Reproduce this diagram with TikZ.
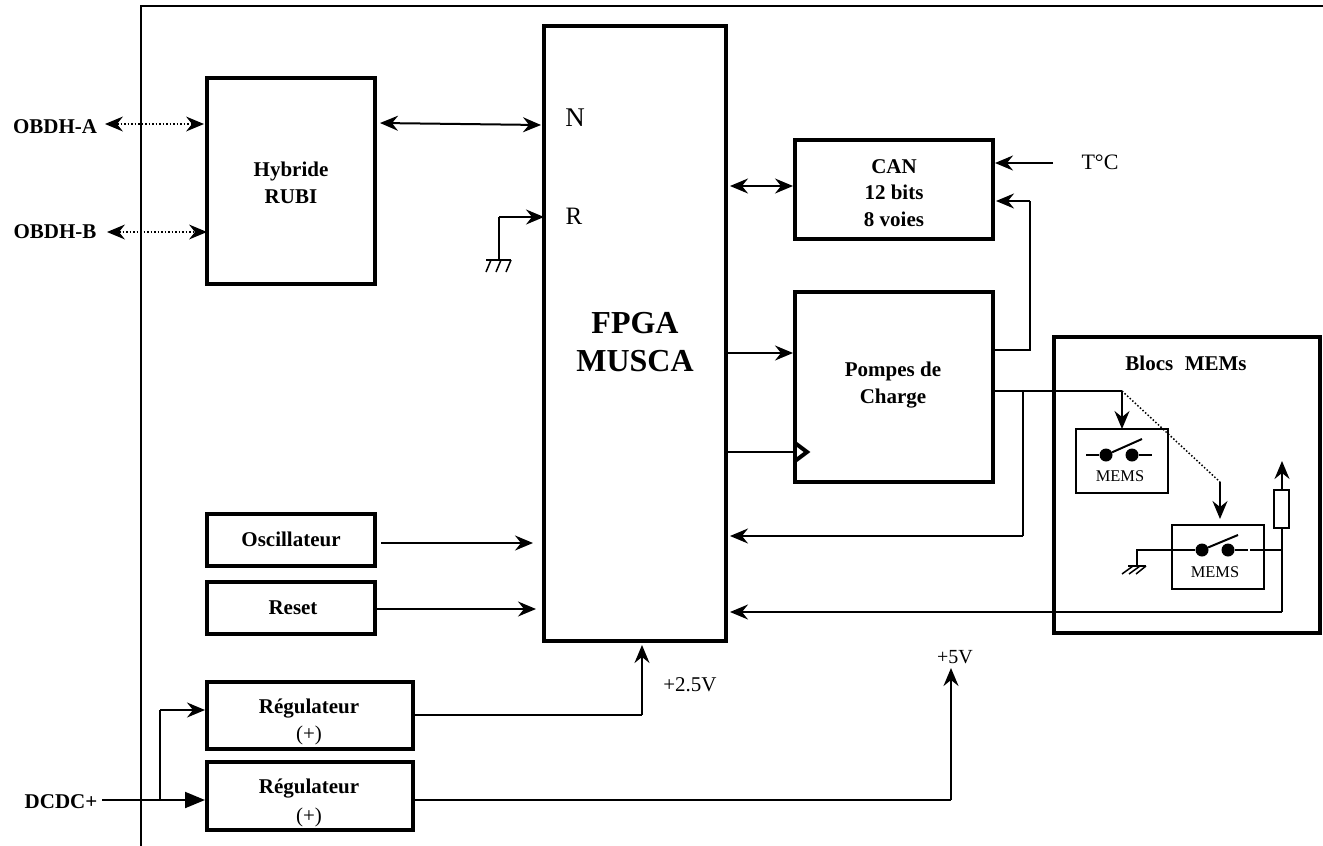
\documentclass[tikz,border=0pt]{standalone}
\usepackage{fontspec}
\setmainfont{Liberation Serif}
\usetikzlibrary{arrows.meta}
\newcommand{\fsz}[2]{\fontsize{#1}{#2}\selectfont}
\tikzset{
  x=1pt,y=-1pt,
  thickbox/.style={draw=black,line width=4pt,inner sep=0pt,outer sep=0pt},
  thinbox/.style={draw=black,line width=2pt,inner sep=0pt,outer sep=0pt},
  wire/.style={draw=black,line width=2pt},
  dotwire/.style={draw=black,line width=1.5pt,dotted},
  lbl/.style={inner sep=0pt,outer sep=0pt},
  blbl/.style={inner sep=0pt,outer sep=0pt,align=center,font=\fsz{21}{26.5}\bfseries},
  arr/.style={wire,-{Stealth[length=18pt,width=15pt,inset=6pt]}},
  darr/.style={wire,{Stealth[length=18pt,width=15pt,inset=6pt]}-{Stealth[length=18pt,width=15pt,inset=6pt]}},
  ddot/.style={dotwire,{Stealth[length=18pt,width=15pt,inset=6pt,line width=0pt]}-{Stealth[length=18pt,width=15pt,inset=6pt,line width=0pt]}},
  dotdisc/.style={circle,fill=black,inner sep=0pt,minimum size=13pt},
}
\begin{document}
\begin{tikzpicture}
\useasboundingbox (0,0) rectangle (1323,846);
% outer frame
\draw[line width=2pt] (141,846) -- (141,6) -- (1323,6);
% boxes
\node[thickbox,minimum width=168pt,minimum height=206pt] (hyb) at (291,181) {};
\node[thickbox,minimum width=182pt,minimum height=615pt] (fpga) at (635,333.5) {};
\node[thickbox,minimum width=198pt,minimum height=99pt] (can) at (894,189.5) {};
\node[thickbox,minimum width=198pt,minimum height=190pt] (pomp) at (894,387) {};
\node[thickbox,minimum width=266pt,minimum height=296pt] (blocs) at (1186.5,485) {};
\node[thickbox,minimum width=168pt,minimum height=52pt] (osc) at (291,540) {};
\node[thickbox,minimum width=168pt,minimum height=52pt] (rst) at (291,608) {};
\node[thickbox,minimum width=206pt,minimum height=67pt] (regA) at (310,715.5) {};
\node[thickbox,minimum width=206pt,minimum height=68pt] (regB) at (310,796) {};
\node[thinbox,minimum width=92pt,minimum height=64pt] (memsA) at (1122,461) {};
\node[thinbox,minimum width=92pt,minimum height=64pt] (memsB) at (1218,557) {};
\node[thinbox,minimum width=15pt,minimum height=38pt] (res) at (1281.5,509) {};
% box texts
\node[blbl] (hybt) at (291,183) {Hybride\\RUBI};
\node[lbl,align=center,font=\fsz{32}{38}\bfseries] (fpgat) at (635,342) {FPGA\\MUSCA};
\node[blbl] (cant) at (894,193) {CAN\\12 bits\\8 voies};
\node[blbl] (pompt) at (893,385) {Pompes de\\Charge};
\node[blbl] (blocst) at (1186,363) {Blocs\hspace{0.3em} MEMs};
\node[blbl] (osct) at (291,539) {Oscillateur};
\node[blbl] (rstt) at (293,608) {Reset};
\node[blbl] (regAt) at (309,709) {Régulateur};
\node[lbl,font=\fsz{21}{21}] (regAp) at (309,735) {(+)};
\node[blbl] (regBt) at (309,789) {Régulateur};
\node[lbl,font=\fsz{21}{21}] (regBp) at (309,817) {(+)};
% labels
\node[lbl,font=\fsz{27}{27}] (portN) at (575,118) {N};
\node[lbl,font=\fsz{25}{25}] (portR) at (574,216) {R};
\node[lbl,font=\fsz{22}{22}] (temp) at (1100,162) {T°C};
\node[lbl,font=\fsz{21}{21}] (vA) at (690,685) {+2.5V};
\node[lbl,font=\fsz{20}{20}] (vB) at (955,657) {+5V};
\node[blbl] (obA) at (55,127) {OBDH-A};
\node[blbl] (obB) at (55,232) {OBDH-B};
\node[blbl] (dcdc) at (61,802) {DCDC+};
\node[lbl,font=\fsz{16.4}{16.4}] (mlA) at (1120,476) {MEMS};
\node[lbl,font=\fsz{16.4}{16.4}] (mlB) at (1215,572) {MEMS};
% coordinates
\coordinate (gndR) at (499,217);
\coordinate (gndRb) at (499,260);
\coordinate (tsrc) at (1053,163);
\coordinate (pumpOut) at (1030,350);
\coordinate (pumpTop) at (1030,201);
\coordinate (splitA) at (1122,391);
\coordinate (splitB) at (1023,391);
\coordinate (dotEnd) at (1220,482);
\coordinate (retA) at (1023,536);
\coordinate (retB) at (1282,612);
\coordinate (sup) at (642,715);
\coordinate (five) at (951,800);
\coordinate (branch) at (160,800);
\coordinate (branchT) at (160,710);
\coordinate (dcS) at (102,800);
% connectors
\draw[ddot] (105,124) -- (204,124);
\draw[ddot] (107,232) -- (207,232);
\draw[darr] (380,123) -- (541,125);
\draw[wire] (gndRb) -- (gndR);
\draw[arr] (gndR) -- (gndR -| fpga.west);
\draw[line width=2pt] (486,260) -- (511,260);
\draw[line width=1.5pt] (491,260) -- (486,272) (501,260) -- (496,272) (511,260) -- (506,272);
\draw[darr] (730,186) -- (793,186);
\draw[arr] (tsrc) -- (995,163);
\draw[wire] (pomp.east |- pumpOut) -- (pumpOut) -- (pumpTop);
\draw[arr] (pumpTop) -- (996,201);
\draw[arr] (fpga.east |- 0,353) -- (793,353);
\draw[wire] (fpga.east |- 0,452) -- (795,452);
\draw[line width=4pt,miter limit=10] (795,443) -- (807,452) -- (795,461);
\draw[wire] (pomp.east |- splitA) -- (splitA);
\draw[arr] (splitA) -- (memsA.north -| splitA);
\draw[dotwire,line width=1.5pt] (splitA) -- (dotEnd);
\draw[arr] (dotEnd) -- (1220,519);
\draw[wire] (splitB) -- (retA);
\draw[arr] (retA) -- (730,536);
\draw[wire] (res.south -| retB) -- (retB);
\draw[arr] (retB) -- (730,612);
\draw[arr] (res.north -| retB) -- (1282,461);
\draw[arr] (381,543) -- (533,543);
\draw[arr] (rst.east |- 0,609) -- (536,609);
\draw[wire] (regA.east |- sup) -- (sup);
\draw[arr] (sup) -- (642,645);
\draw[wire] (regB.east |- five) -- (five);
\draw[arr] (five) -- (951,668);
\draw[wire] (dcS) -- (branch);
\draw[wire,-{Stealth[length=20pt,width=16pt,inset=0pt]}] (branch) -- (205,800);
\draw[wire] (branch) -- (branchT);
\draw[arr] (branchT) -- (205,710);
% switches
\node[dotdisc] (a1) at (1106,455) {};
\node[dotdisc] (a2) at (1132,455) {};
\draw[wire] (1086,455) -- (a1);
\draw[wire] (a2) -- (1152,455);
\draw[wire] (a1) -- (1142,439);
\node[dotdisc] (b1) at (1202,550) {};
\node[dotdisc] (b2) at (1228,550) {};
\coordinate (gndM) at (1137,550);
\draw[wire] (1137,566) -- (gndM) -- (b1);
\draw[wire] (b2) -- (1248,550);
\draw[wire] (1250,550) -- (1282,550);
\draw[wire] (b1) -- (1238,535);
\draw[line width=2pt] (1128,566) -- (1146,566);
\draw[line width=1.5pt] (1133,566) -- (1122,574) (1140,566) -- (1129,574) (1146,566) -- (1136,574);
\end{tikzpicture}
\end{document}
